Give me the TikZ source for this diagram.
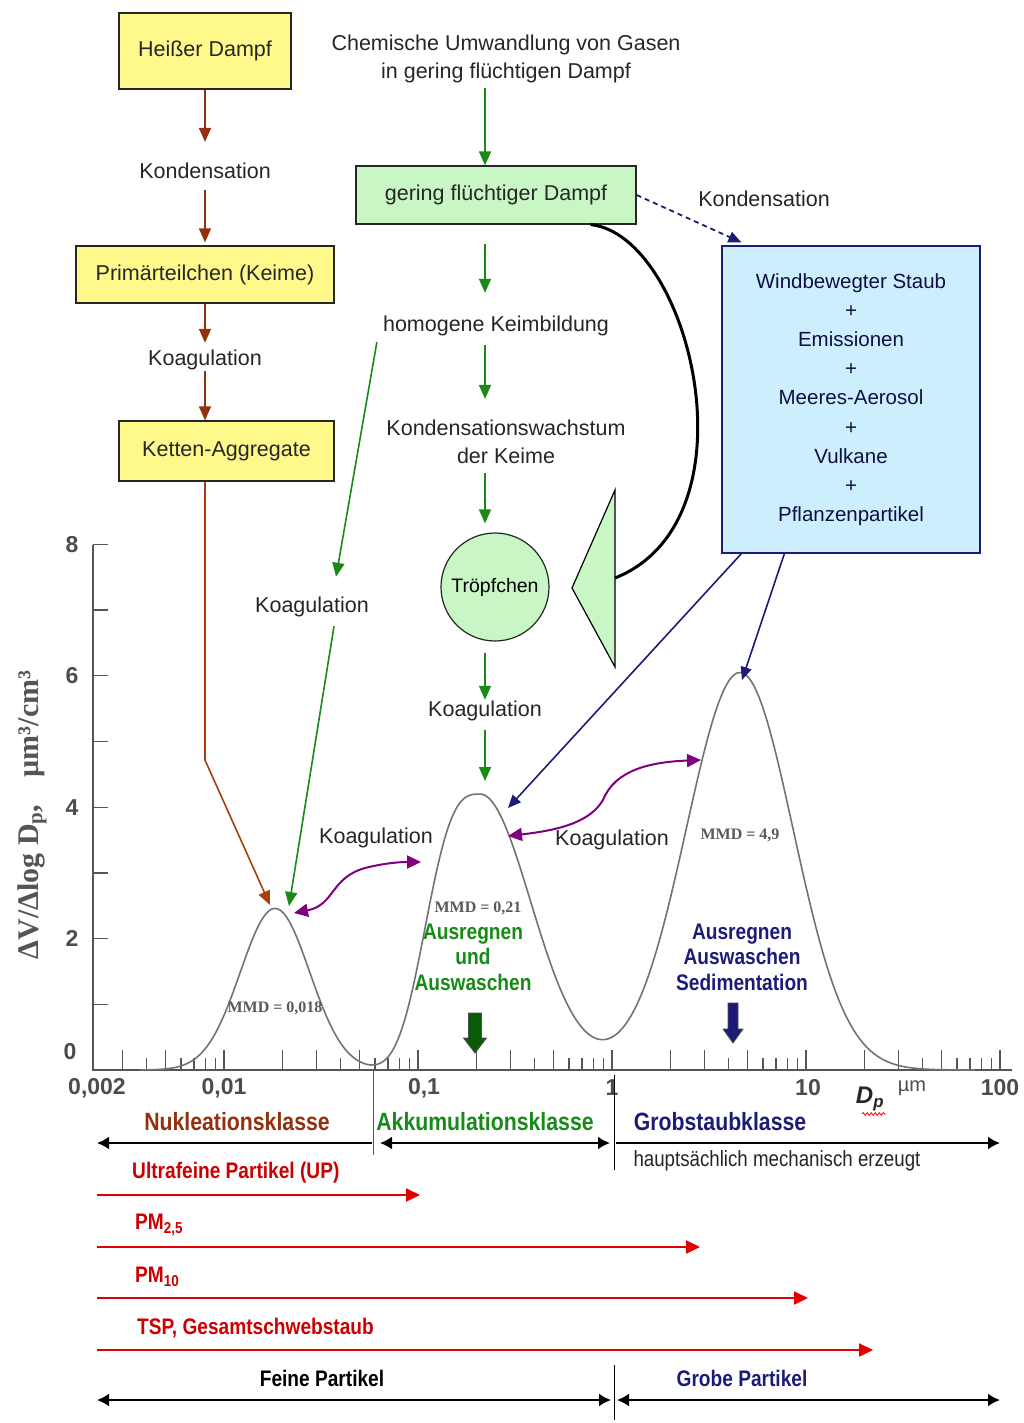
\documentclass[tikz,border=0pt]{standalone}
\usepackage{fontspec}
\setmainfont{Liberation Sans}
\newfontfamily\schmal[FakeStretch=0.85]{Liberation Sans}
\newfontfamily\serifschrift{Liberation Serif}
\usetikzlibrary{positioning,arrows.meta,decorations.pathmorphing}

\definecolor{gelb}{HTML}{FFF98C}
\definecolor{hellgruen}{HTML}{C8F7C5}
\definecolor{hellblau}{HTML}{CDEFFD}
\definecolor{braun}{HTML}{93300E}
\definecolor{gruen}{HTML}{178A17}
\definecolor{dunkelgruen}{HTML}{0A5A0A}
\definecolor{marine}{HTML}{1C1C78}
\definecolor{lila}{HTML}{800080}
\definecolor{rot}{HTML}{E00000}
\definecolor{dunkelrot}{HTML}{CC0000}
\definecolor{achse}{HTML}{555555}

\begin{document}
\begin{tikzpicture}[x=1pt,y=-1pt]
\tikzstyle{box} = [rectangle, draw=black!85, line width=1.2pt, text centered, inner sep=0pt, text=black!85, font=\fontsize{21.5}{25}\selectfont]
\tikzstyle{txt} = [align=center, inner sep=1pt, text=black!85, font=\fontsize{21.5}{28}\selectfont]
\tikzstyle{arrbraun} = [-{Triangle[length=14pt,width=12pt]}, braun, line width=1.6pt]
\tikzstyle{arrgruen} = [-{Triangle[length=14pt,width=12pt]}, gruen, line width=1.6pt]
\tikzstyle{arrmarine} = [-{Triangle[length=13pt,width=11pt]}, marine, line width=1.6pt]
\tikzstyle{koagpfeil} = [{Triangle[length=14pt,width=13pt]}-{Triangle[length=14pt,width=13pt]}, lila, line width=2pt]
\tikzstyle{rotpfeil} = [-{Triangle[length=14pt,width=13pt]}, rot, line width=2.2pt]
\tikzstyle{massstab} = [>={Latex[length=12pt,width=13pt]}, black, line width=2pt]
\tikzstyle{kurve} = [draw=black!55, line width=1.6pt]
\tikzstyle{fettschmal} = [font=\schmal\bfseries\fontsize{22.5}{25.5}\selectfont, inner sep=0pt, align=center]
\tikzstyle{mmd} = [font=\serifschrift\bfseries\fontsize{16}{18}\selectfont, text=black!65]
\tikzstyle{zahl} = [font=\bfseries\fontsize{23}{25}\selectfont, text=black!70]

\useasboundingbox (0,0) rectangle (1024,1423);
\fill[white] (0,0) rectangle (1024,1423);

% linke Kette
\node[box, fill=gelb, minimum width=172pt, minimum height=76pt] (heiss) at (205,51) {Heißer Dampf};
\node[txt] (kond1) at (205,171) {Kondensation};
\node[box, fill=gelb, minimum width=258pt, minimum height=57pt] (primaer) at (205,274.5) {Primärteilchen (Keime)};
\node[txt] (koag1) at (205,360) {Koagulation};
\node[box, fill=gelb, minimum width=215pt, minimum height=60pt] (ketten) at (226.5,451) {Ketten-Aggregate};

\draw[arrbraun, shorten >=20pt] (heiss.south) -- (kond1.north);
\draw[arrbraun, shorten <=10pt, shorten >=3pt] (kond1.south) -- (primaer.north);
\draw[arrbraun, shorten >=6pt] (primaer.south) -- (koag1.north);
\draw[arrbraun] (koag1.south) -- (koag1.south |- ketten.north);

% mittlere Kette
\coordinate (mitte) at (485,0);
\node[txt] (chemie) at (506,59) {Chemische Umwandlung von Gasen\\in gering flüchtigen Dampf};
\node[box, fill=hellgruen, minimum width=280pt, minimum height=58pt] (dampf) at (496,195) {gering flüchtiger Dampf};
\node[txt] (keimbild) at (496,326) {homogene Keimbildung};
\node[txt] (wachstum) at (506,442) {Kondensationswachstum\\der Keime};
\node[circle, draw=black!85, line width=1.2pt, fill=hellgruen, minimum size=108pt, inner sep=0pt,
      font=\fontsize{19.5}{22}\selectfont] (troepfchen) at (495,587) {Tröpfchen};
\node[txt] (koag3) at (485,711) {Koagulation};
\node[txt] (koag2) at (312,607) {Koagulation};

\draw[arrgruen, shorten <=4pt] (chemie.south -| mitte) -- (dampf.north -| mitte);
\draw[arrgruen, shorten <=19pt, shorten >=22pt] (dampf.south -| mitte) -- (keimbild.north -| mitte);
\draw[arrgruen, shorten <=8pt, shorten >=20pt] (keimbild.south -| mitte) -- (wachstum.north -| mitte);
\draw[arrgruen, shorten <=8pt, shorten >=9pt] (wachstum.south -| mitte) -- (troepfchen.north -| mitte);
\draw[arrgruen, shorten <=11pt] (troepfchen.south -| mitte) -- (koag3.north -| mitte);

% rechter Kasten
\node[box, draw=marine, fill=hellblau, minimum width=258pt, minimum height=307pt, align=center,
      text=marine!55!black, font=\fontsize{20.5}{29.2}\selectfont] (staub) at (851,399.5)
      {Windbewegter Staub\\+\\Emissionen\\+\\Meeres-Aerosol\\+\\Vulkane\\+\\Pflanzenpartikel};
\node[txt] (kond2) at (764,199) {Kondensation};
\draw[arrmarine, dash pattern=on 5pt off 4pt, line width=1.8pt] (dampf.east) -- ([xshift=20pt,yshift=3pt]staub.north west);

% Rueckfuehrung zum Dreieck
\coordinate (dreieck) at (615,578);
\draw[fill=hellgruen, draw=black, line width=1.2pt] (615,490) -- (572,588) -- (615,667) -- cycle;
\draw[black, line width=3pt] ([xshift=-46pt]dampf.south east) .. controls (690,235) and (760,520) .. (dreieck);

% Diagramm
\draw[achse, line width=1.3pt] (93,545) -- (93,1070) -- (1012,1070);
\foreach \v in {0,...,8}
  \draw[achse, line width=1.3pt] (93,{1070-65.7*\v}) -- ++(15,0);
\foreach \v in {2,4,6,8}
  \node[zahl] at (72,{1070-65.7*\v}) {\v};
\node[zahl] at (70,1052) {0};
\foreach \dek in {-3,...,2}
  \foreach \m in {1,...,9} {
    \pgfmathsetmacro{\xp}{612+194*(\dek+ln(\m)/ln(10))}
    \pgfmathsetmacro{\hh}{(\m==1 || \m==2 || \m==3 || \m==5) ? 20 : 12}
    \ifdim\xp pt>95pt \ifdim\xp pt<1013pt
      \draw[achse, line width=1.2pt] (\xp,1070) -- ++(0,-\hh);
    \fi\fi
  }
\node[zahl] at (97,1088) {0,002};
\node[zahl] at (224,1088) {0,01};
\node[zahl] at (424,1088) {0,1};
\node[zahl] at (612,1088) {1};
\node[zahl] at (808,1088) {10};
\node[zahl] at (1000,1088) {100};
\node[font=\bfseries\itshape\fontsize{24}{26}\selectfont, text=black!85] (dp) at (870,1099) {D\textsubscript{p}};
\node[font=\fontsize{20}{22}\selectfont, text=black!70] (mum) at (912,1088) {µm};
\draw[red, line width=0.8pt, decorate, decoration={snake, amplitude=1.3pt, segment length=4pt}] (862,1114) -- (886,1114);
\node[rotate=90, font=\serifschrift\bfseries\fontsize{30}{32}\selectfont, text=achse] (ylabel) at (32,815)
      {ΔV/Δlog D\textsubscript{p},\hspace{0.9em}µm³/cm³};

% Verteilung aus drei Moden
\draw[kurve] plot[domain=140:975, samples=240, smooth] ({\x}, {1070-65.7*(
    2.46*exp(-min(30,((\x-275)/49)^2))
  + 4.2*exp(-min(30,(abs(\x-480)/(\x<480 ? 63 : 72))^(\x<480 ? 3 : 2)))
  + 6.05*exp(-min(30,((\x-740)/(\x<740 ? 76 : 75))^2)) )});

\coordinate (ankunftA1) at (270,905);
\coordinate (ankunftA2) at (289,906);
\coordinate (ankunftA3) at (294,913);
\coordinate (ankunftB0) at (485,781);
\coordinate (ankunftB1) at (508,808);
\coordinate (ankunftB2) at (421,862);
\coordinate (ankunftB3) at (508,836);
\coordinate (ankunftC1) at (742,680);
\coordinate (ankunftC2) at (701,760);

\draw[arrbraun, color=braun!80!orange] (ketten.south -| koag1.south) -- (205,760) -- (ankunftA1);
\draw[arrgruen] ([xshift=-5pt,yshift=-5pt]keimbild.south west) -- ([xshift=24pt,yshift=19pt]koag2.north);
\draw[arrgruen] ([xshift=22pt,yshift=-8pt]koag2.south) -- (ankunftA2);
\draw[arrgruen, shorten <=8pt] (koag3.south -| mitte) -- (ankunftB0);
\draw[arrmarine] ([xshift=20pt]staub.south west) -- (ankunftB1);
\draw[arrmarine] ([xshift=63pt]staub.south west) -- (ankunftC1);

\node[txt] (koag4) at (376,838) {Koagulation};
\node[txt] (koag5) at (612,840) {Koagulation};
\draw[koagpfeil] (ankunftA3) .. controls (335,905) and (330,878) .. (365,868) .. controls (385,863) and (400,862) .. (ankunftB2);
\draw[koagpfeil] (ankunftB3) .. controls (560,830) and (590,822) .. (603,800) .. controls (615,770) and (650,762) .. (ankunftC2);

\node[mmd] (mmdA) at (275,1008) {MMD = 0,018};
\node[mmd] (mmdB) at (478,908) {MMD = 0,21};
\node[mmd] (mmdC) at (740,835) {MMD = 4,9};
\node[fettschmal, text=gruen] (auswA) at (473,957) {Ausregnen\\und\\Auswaschen};
\node[fettschmal, text=marine] (auswC) at (742,957) {Ausregnen\\Auswaschen\\Sedimentation};
\filldraw[fill=dunkelgruen, draw=black!70, line width=0.8pt] (468.5,1013) -- (481.5,1013) -- (481.5,1038) -- (486.5,1038)
  -- (475,1053) -- (463.5,1038) -- (468.5,1038) -- cycle;
\filldraw[fill=marine, draw=black!70, line width=0.8pt] (728,1003) -- (738,1003) -- (738,1029) -- (743,1029)
  -- (733,1043) -- (723,1029) -- (728,1029) -- cycle;

% Klassen
\draw[achse, line width=0.8pt] (373,1070) -- (373,1155);
\draw[black, line width=0.8pt] (614,1075) -- (614,1170);
\node[fettschmal, font=\schmal\bfseries\fontsize{25}{28}\selectfont, text=braun] (nukl) at (237,1122) {Nukleationsklasse};
\node[fettschmal, font=\schmal\bfseries\fontsize{25}{28}\selectfont, text=gruen] (akku) at (485,1122) {Akkumulationsklasse};
\node[fettschmal, font=\schmal\bfseries\fontsize{25}{28}\selectfont, text=marine] (grob) at (720,1122) {Grobstaubklasse};
\node[font=\schmal\fontsize{22}{24}\selectfont, text=black!85, anchor=west] (mech) at (630,1161) {hauptsächlich mechanisch erzeugt};
\draw[massstab, <-] (97,1143) -- (372,1143);
\draw[massstab, <->] (380,1143) -- (610,1143);
\draw[massstab, ->] (616,1143) -- (1000,1143);

% Grenzwerte
\node[fettschmal, text=dunkelrot, anchor=west] (ultra) at (132,1173) {Ultrafeine Partikel (UP)};
\node[fettschmal, text=dunkelrot, anchor=west] (pmzwei) at (135,1225) {PM\textsubscript{2,5}};
\node[fettschmal, text=dunkelrot, anchor=west] (pmzehn) at (135,1277) {PM\textsubscript{10}};
\node[fettschmal, text=dunkelrot, anchor=west] (tsp) at (137,1328) {TSP, Gesamtschwebstaub};
\draw[rotpfeil] (97,1195) -- (420,1195);
\draw[rotpfeil] (97,1247) -- (700,1247);
\draw[rotpfeil] (97,1298) -- (808,1298);
\draw[rotpfeil] (97,1350) -- (873,1350);

% fein / grob
\node[fettschmal, text=black] (fein) at (322,1378) {Feine Partikel};
\node[fettschmal, text=marine] (grobp) at (742,1378) {Grobe Partikel};
\draw[black, line width=0.8pt] (614,1365) -- (614,1420);
\draw[massstab, <->] (97,1400) -- (611,1400);
\draw[massstab, <->] (617,1400) -- (1000,1400);
\end{tikzpicture}
\end{document}
